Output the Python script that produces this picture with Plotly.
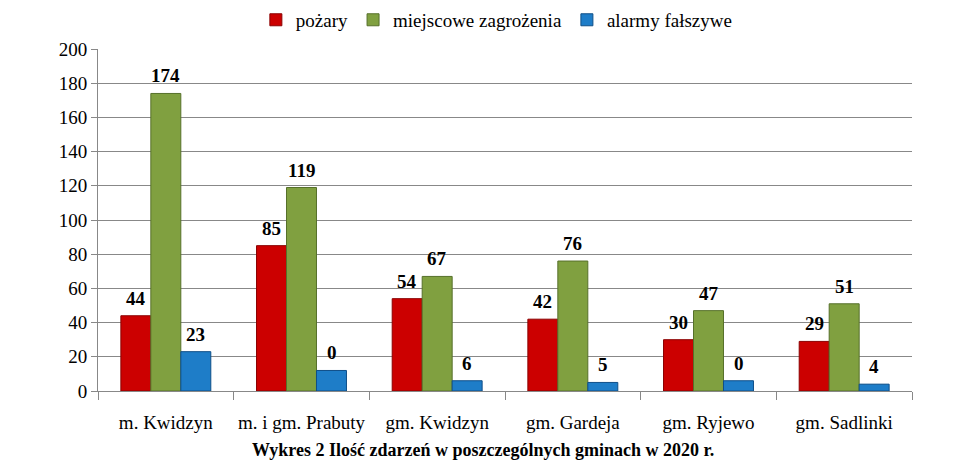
import plotly.graph_objects as go

categories = ["m. Kwidzyn", "m. i gm. Prabuty", "gm. Kwidzyn", "gm. Gardeja", "gm. Ryjewo", "gm. Sadlinki"]
series_names = ["pożary", "miejscowe zagrożenia", "alarmy fałszywe"]
pozary = [44, 85, 54, 42, 30, 29]
miejscowe = [174, 119, 67, 76, 47, 51]
alarmy_heights = [23, 12, 6, 5, 6, 4]   # bar heights as drawn
alarmy_labels = [23, 0, 6, 5, 0, 4]     # labels as printed
y_ticks = [0, 20, 40, 60, 80, 100, 120, 140, 160, 180, 200]
title_text = "Wykres 2 Ilość zdarzeń w poszczególnych gminach w 2020 r."

colors = ["#CC0000", "#80A040", "#1E7DC8"]
edge = ["#8B0000", "#56702A", "#0F4F88"]

heights = [pozary, miejscowe, alarmy_heights]
labels = [pozary, miejscowe, alarmy_labels]

FONT = "Liberation Serif"

fig = go.Figure()
for name, h, c, e in zip(series_names, heights, colors, edge):
    fig.add_trace(go.Bar(
        x=categories, y=h, name=name,
        marker=dict(color=c, line=dict(color=e, width=1)),
    ))

shifts = [-30, 0, 30]
for h, lab, dx in zip(heights, labels, shifts):
    for cat, v, t in zip(categories, h, lab):
        fig.add_annotation(
            x=cat, y=v, text=f"<b>{t}</b>", showarrow=False,
            xshift=dx, yshift=5, yanchor="bottom",
            font=dict(family=FONT, size=19, color="#000000"),
        )

fig.add_annotation(
    text=f"<b>{title_text}</b>", xref="paper", yref="paper",
    x=0.473, y=-0.1725, yanchor="middle", showarrow=False,
    font=dict(family=FONT, size=18, color="#000000"),
)

fig.update_layout(
    width=962, height=474,
    margin=dict(l=90, r=58, t=41, b=91, autoexpand=False),
    paper_bgcolor="white", plot_bgcolor="white",
    barmode="group", bargap=0.337, bargroupgap=0,
    showlegend=True,
    legend=dict(orientation="h", x=0.49, xanchor="center", y=1.085, yanchor="middle",
                font=dict(family=FONT, size=19, color="#000000"),
                traceorder="normal", itemwidth=30),
)
fig.update_xaxes(
    type="category", tickson="boundaries", ticks="outside", ticklen=8,
    tickcolor="#888888", showline=True, linecolor="#888888", linewidth=1,
    showgrid=False, tickfont=dict(family=FONT, size=19, color="#000000"), tickangle=0,
    ticklabelstandoff=14, automargin=False,
)
fig.update_yaxes(
    range=[0, 200], tickvals=y_ticks, ticks="outside", ticklen=6,
    tickcolor="#888888", showline=True, linecolor="#888888", linewidth=1,
    showgrid=True, gridcolor="#888888", gridwidth=1, zeroline=False,
    tickfont=dict(family=FONT, size=19, color="#000000"), automargin=False,
)

fig.write_html("out.html")
